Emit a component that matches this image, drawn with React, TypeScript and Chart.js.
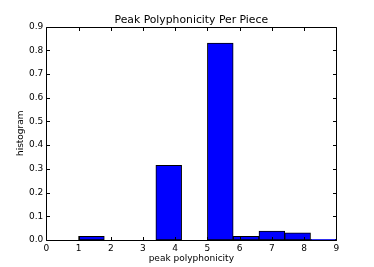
import React, { useEffect, useRef } from "react";
import { Chart, registerables } from "chart.js";

Chart.register(...registerables);

const binCenters = [1.4, 2.2, 3.0, 3.8, 4.6, 5.4, 6.2, 7.0, 7.8, 8.6];
const binValues = [0.015, 0, 0, 0.315, 0, 0.83, 0.015, 0.038, 0.03, 0.003];
const xTicks = [0, 1, 2, 3, 4, 5, 6, 7, 8, 9];
const yTicks = [0, 0.1, 0.2, 0.3, 0.4, 0.5, 0.6, 0.7, 0.8, 0.9];
const titleText = "Peak Polyphonicity Per Piece";

const FONT = "'DejaVu Sans', sans-serif";

const framePlugin = {
  id: "frameTicks",
  afterDatasetsDraw(chart: any) {
    const { ctx, chartArea } = chart;
    const xs = chart.scales.x;
    const ys = chart.scales.y;
    const { left, right, top, bottom } = chartArea;
    const L = Math.round(left) + 0.5;
    const R = Math.round(right) + 0.5;
    const T = Math.round(top) + 0.5;
    const B = Math.round(bottom) + 0.5;
    const len = 3.5;
    ctx.save();
    ctx.strokeStyle = "#000";
    ctx.lineWidth = 1;
    ctx.beginPath();
    ctx.rect(L, T, R - L, B - T);
    for (const v of xTicks) {
      const px = Math.round(xs.getPixelForValue(v)) + 0.5;
      ctx.moveTo(px, B);
      ctx.lineTo(px, B - len);
      ctx.moveTo(px, T);
      ctx.lineTo(px, T + len);
    }
    for (const v of yTicks) {
      const py = Math.round(ys.getPixelForValue(v)) + 0.5;
      ctx.moveTo(L, py);
      ctx.lineTo(L + len, py);
      ctx.moveTo(R, py);
      ctx.lineTo(R - len, py);
    }
    ctx.stroke();
    ctx.fillStyle = "#000";
    ctx.font = `10.8px ${FONT}`;
    ctx.textAlign = "center";
    ctx.textBaseline = "alphabetic";
    ctx.fillText(titleText, (left + right) / 2, 23);
    ctx.restore();
  },
};

export default function App() {
  const ref = useRef<HTMLCanvasElement | null>(null);
  useEffect(() => {
    document.body.style.margin = "0";
    const canvas = ref.current;
    if (!canvas) return;
    const chart = new Chart(canvas, {
      type: "bar",
      data: {
        datasets: [
          {
            data: binCenters.map((x, i) => ({ x, y: binValues[i] })),
            backgroundColor: "#0000ff",
            borderColor: "#000000",
            borderWidth: 1,
            borderSkipped: false,
            barPercentage: 1,
            categoryPercentage: 1,
          },
        ],
      },
      options: {
        responsive: false,
        animation: false,
        devicePixelRatio: 1,
        layout: { padding: { left: 0, right: 37.7, top: 26.5, bottom: 0 } },
        plugins: {
          legend: { display: false },
          tooltip: { enabled: false },
          title: { display: false },
        },
        scales: {
          x: {
            type: "linear",
            min: 0,
            max: 9,
            offset: false,
            grid: { display: false, drawTicks: false },
            border: { display: false },
            afterBuildTicks: (s: any) => {
              s.ticks = xTicks.map((v) => ({ value: v }));
            },
            afterFit: (s: any) => {
              s.height = 27;
            },
            ticks: {
              color: "#000",
              padding: 3,
              maxRotation: 0,
              autoSkip: false,
              font: { family: FONT, size: 9 },
              callback: (v: any) => String(v),
            },
            title: {
              display: true,
              text: "peak polyphonicity",
              color: "#000",
              font: { family: FONT, size: 9 },
              padding: { top: 0, bottom: 2.6 },
            },
          },
          y: {
            type: "linear",
            min: 0,
            max: 0.9,
            grid: { display: false, drawTicks: false },
            border: { display: false },
            afterBuildTicks: (s: any) => {
              s.ticks = yTicks.map((v) => ({ value: v }));
            },
            afterFit: (s: any) => {
              s.width = 46.3;
            },
            ticks: {
              color: "#000",
              padding: 3,
              autoSkip: false,
              font: { family: FONT, size: 9 },
              callback: (v: any) => Number(v).toFixed(1),
            },
            title: {
              display: true,
              text: "histogram",
              color: "#000",
              font: { family: FONT, size: 9 },
              padding: { top: 15.6, bottom: 0 },
            },
          },
        },
      } as any,
      plugins: [framePlugin],
    });
    return () => chart.destroy();
  }, []);
  return (
    <div style={{ position: "absolute", left: 0, top: 0, width: 374, height: 267, background: "#fff" }}>
      <canvas ref={ref} width={374} height={267} style={{ width: 374, height: 267 }} />
    </div>
  );
}
